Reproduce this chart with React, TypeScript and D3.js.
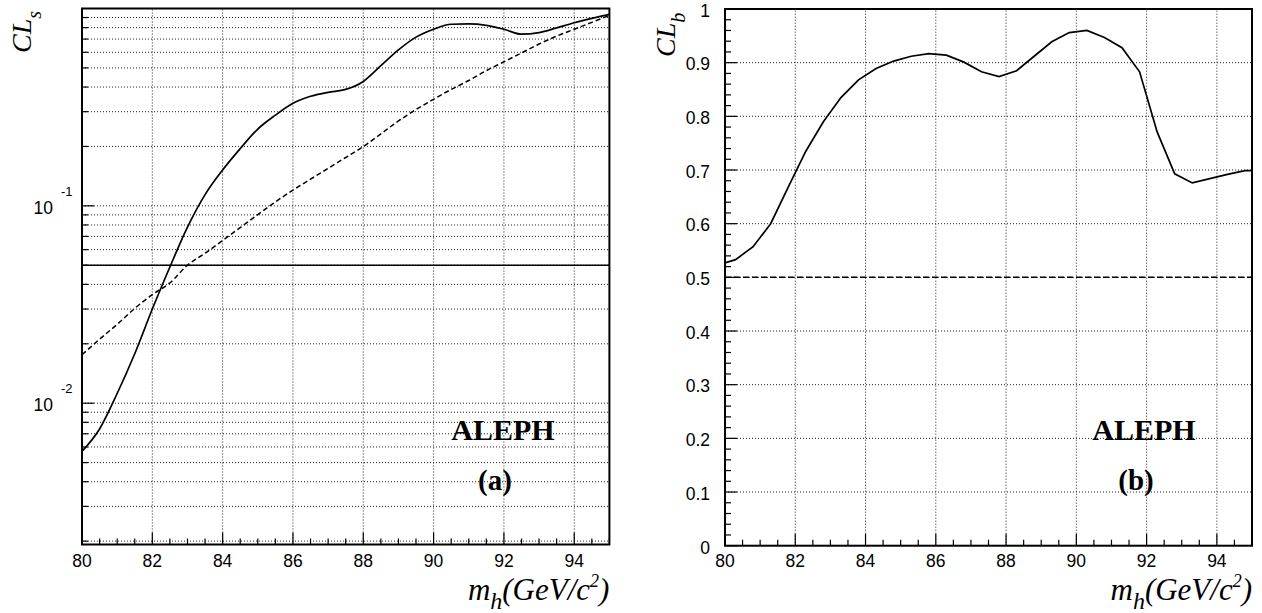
import React from "react";
import * as d3 from "d3";

// ---------- data ----------
const massA = [80, 80.5, 81, 81.5, 82, 82.5, 83, 83.5, 84, 84.5, 85, 85.5, 86, 86.5, 87, 87.5, 88, 88.5, 89, 89.5, 90, 90.5, 91, 91.5, 92, 92.5, 93, 93.5, 94, 94.5, 95];
const clsObserved = [0.0057, 0.0074, 0.0112, 0.0178, 0.030, 0.049, 0.078, 0.114, 0.152, 0.195, 0.245, 0.288, 0.331, 0.359, 0.376, 0.389, 0.427, 0.513, 0.617, 0.716, 0.785, 0.832, 0.836, 0.822, 0.785, 0.741, 0.755, 0.798, 0.847, 0.891, 0.933];
const clsExpected = [0.0176, 0.0211, 0.0251, 0.0302, 0.0355, 0.0407, 0.0501, 0.0575, 0.0668, 0.0776, 0.0902, 0.1047, 0.1202, 0.1365, 0.1549, 0.1758, 0.1995, 0.2317, 0.2692, 0.3076, 0.3467, 0.389, 0.4315, 0.4842, 0.537, 0.5957, 0.6607, 0.7244, 0.7852, 0.851, 0.9226];
const clsLimit = 0.05;

const massB = [80, 80.3, 80.8, 81.3, 81.8, 82.3, 82.8, 83.3, 83.8, 84.3, 84.8, 85.3, 85.8, 86.3, 86.8, 87.3, 87.8, 88.3, 88.8, 89.3, 89.8, 90.3, 90.8, 91.3, 91.8, 92.3, 92.8, 93.3, 93.8, 94.3, 94.8, 95];
const clbObserved = [0.527, 0.533, 0.557, 0.600, 0.668, 0.735, 0.790, 0.835, 0.868, 0.889, 0.903, 0.912, 0.917, 0.914, 0.901, 0.883, 0.874, 0.885, 0.912, 0.939, 0.956, 0.960, 0.947, 0.928, 0.883, 0.771, 0.693, 0.676, 0.684, 0.692, 0.699, 0.699];
const clbExpected = 0.5;

const xTicks = [80, 82, 84, 86, 88, 90, 92, 94];
const xMinor = d3.range(80, 95.01, 0.5);
const yTicksB = [0, 0.1, 0.2, 0.3, 0.4, 0.5, 0.6, 0.7, 0.8, 0.9, 1];
const yMinorB = d3.range(0, 1.001, 0.02);
const logDecades = [0.01, 0.1];
const logDecadeLabels = ["-2", "-1"];

const SANS = "'Liberation Sans', Arial, Helvetica, sans-serif";
const SERIF = "'Liberation Serif', 'Times New Roman', Times, serif";
const GRID = { stroke: "#222", strokeWidth: 1, strokeDasharray: "1,2" };
const TICKFONT = 17.5;

function XAxis({ x, yb, yt }: any) {
  return (
    <g>
      {xTicks.map((t) => (
        <line key={"g" + t} x1={x(t)} x2={x(t)} y1={yb} y2={yt} {...GRID} />
      ))}
      {xMinor.map((t) => {
        const major = Math.abs(t / 2 - Math.round(t / 2)) < 1e-6;
        return <line key={"t" + t} x1={x(t)} x2={x(t)} y1={yb} y2={yb - (major ? 12 : 6)} stroke="#000" strokeWidth={1.2} />;
      })}
      {xTicks.map((t) => (
        <text key={"l" + t} x={x(t)} y={567} textAnchor="middle" fontFamily={SANS} fontSize={TICKFONT}>{t}</text>
      ))}
    </g>
  );
}

function MassTitle({ xr }: any) {
  return (
    <text x={xr} y={600} textAnchor="end" fontFamily={SERIF} fontStyle="italic" fontSize={31}>
      m<tspan fontSize={24} dy={9}>h</tspan><tspan dy={-9}>(GeV/c</tspan><tspan fontSize={18} dy={-13}>2</tspan><tspan dy={13}>)</tspan>
    </text>
  );
}

function PanelA() {
  const x0 = 82, x1 = 609.4, y0 = 8.5, y1 = 544.5;
  const x = d3.scaleLinear().domain([80, 95]).range([x0, x1]);
  const y = d3.scaleLog().domain([Math.pow(10, -2.716), 1]).range([y1, y0]);
  const minorVals: number[] = [];
  [0.001, 0.01, 0.1].forEach((d) => {
    for (let k = 1; k <= 9; k++) {
      const v = d * k;
      if (v >= y.domain()[0] && v < 1) minorVals.push(v);
    }
  });
  const line = d3.line<number>().x((_, i) => x(massA[i])).y((d) => y(d)).curve(d3.curveMonotoneX);
  return (
    <g>
      {minorVals.map((v, i) => (
        <line key={"gy" + i} x1={x0} x2={x1} y1={y(v)} y2={y(v)} {...GRID} />
      ))}
      <XAxis x={x} yb={y1} yt={y0} />
      {minorVals.map((v, i) => {
        const major = logDecades.some((d) => Math.abs(d - v) < 1e-9);
        return <line key={"ty" + i} x1={x0} x2={x0 + (major ? 12 : 6)} y1={y(v)} y2={y(v)} stroke="#000" strokeWidth={1.2} />;
      })}
      {logDecades.map((d, i) => (
        <g key={"ld" + i}>
          <text x={x0 - 29} y={y(d) + 7.8} textAnchor="end" fontFamily={SANS} fontSize={TICKFONT}>10</text>
          <text x={x0 - 21} y={y(d) - 10} fontFamily={SANS} fontSize={13}>{logDecadeLabels[i]}</text>
        </g>
      ))}
      <line x1={x0} x2={x1} y1={y(clsLimit)} y2={y(clsLimit)} stroke="#000" strokeWidth={1.5} />
      <path d={line(clsExpected) || ""} fill="none" stroke="#000" strokeWidth={1.5} strokeDasharray="5,3" />
      <path d={line(clsObserved) || ""} fill="none" stroke="#000" strokeWidth={1.7} />
      <rect x={x0} y={y0} width={x1 - x0} height={y1 - y0} fill="none" stroke="#000" strokeWidth={2} />
      <text transform="translate(31,53) rotate(-90)" fontFamily={SERIF} fontStyle="italic" fontSize={28}>
        CL<tspan fontSize={20} dy={10}>s</tspan>
      </text>
      <MassTitle xr={x1} />
      <text x={503} y={440} textAnchor="middle" fontFamily={SERIF} fontWeight="bold" fontSize={30}>ALEPH</text>
      <text x={495} y={490} textAnchor="middle" fontFamily={SERIF} fontWeight="bold" fontSize={29}>(a)</text>
    </g>
  );
}

function PanelB() {
  const x0 = 725, x1 = 1252, y0 = 9, y1 = 545.7;
  const x = d3.scaleLinear().domain([80, 95]).range([x0, x1]);
  const y = d3.scaleLinear().domain([0, 1]).range([y1, y0]);
  const line = d3.line<number>().x((_, i) => x(massB[i])).y((d) => y(d));
  return (
    <g>
      {yTicksB.map((v) => (
        <line key={"gy" + v} x1={x0} x2={x1} y1={y(v)} y2={y(v)} {...GRID} />
      ))}
      <XAxis x={x} yb={y1} yt={y0} />
      {yMinorB.map((v, i) => {
        const major = i % 5 === 0;
        return <line key={"ty" + i} x1={x0} x2={x0 + (major ? 12 : 6)} y1={y(v)} y2={y(v)} stroke="#000" strokeWidth={1.2} />;
      })}
      {yTicksB.map((v) => (
        <text key={"yl" + v} x={710} y={y(v) + 7.8} textAnchor="end" fontFamily={SANS} fontSize={TICKFONT}>{d3.format("~g")(v)}</text>
      ))}
      <line x1={x0} x2={x1} y1={y(clbExpected)} y2={y(clbExpected)} stroke="#000" strokeWidth={1.5} strokeDasharray="6,3" />
      <path d={line(clbObserved) || ""} fill="none" stroke="#000" strokeWidth={1.7} />
      <rect x={x0} y={y0} width={x1 - x0} height={y1 - y0} fill="none" stroke="#000" strokeWidth={2} />
      <text transform="translate(675,57) rotate(-90)" fontFamily={SERIF} fontStyle="italic" fontSize={28}>
        CL<tspan fontSize={20} dy={10}>b</tspan>
      </text>
      <MassTitle xr={x1} />
      <text x={1144} y={440} textAnchor="middle" fontFamily={SERIF} fontWeight="bold" fontSize={30}>ALEPH</text>
      <text x={1136} y={490} textAnchor="middle" fontFamily={SERIF} fontWeight="bold" fontSize={29}>(b)</text>
    </g>
  );
}

export default function App() {
  return (
    <svg width={1262} height={613} viewBox="0 0 1262 613" style={{ position: "absolute", left: 0, top: 0, background: "#fff" }}>
      <rect width={1262} height={613} fill="#fff" />
      <PanelA />
      <PanelB />
    </svg>
  );
}
